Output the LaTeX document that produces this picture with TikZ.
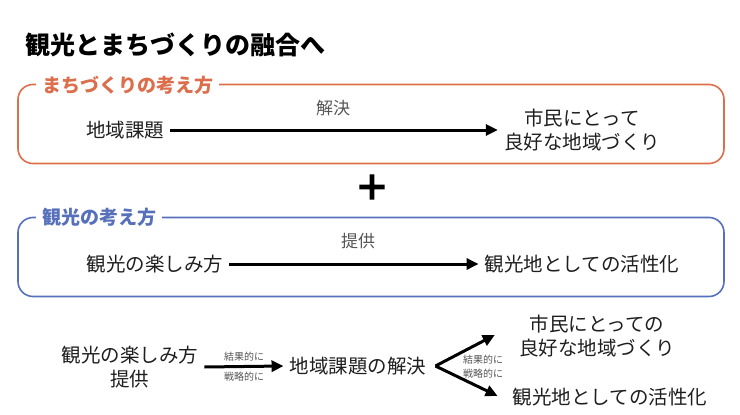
\documentclass[tikz,border=0pt]{standalone}
\usepackage{fontspec}
\setmainfont{Noto Sans CJK JP}
\newfontfamily\plusfont[FakeBold=4]{DejaVu Sans}
\usetikzlibrary{arrows.meta}
\usepackage{xcolor}
\definecolor{MchD}{HTML}{DC6E4C}
\definecolor{KnkD}{HTML}{5670BC}
\definecolor{TxtD}{HTML}{1E1E1E}
\definecolor{SubD}{HTML}{555555}
\tikzset{
  RGN/.style={
    rectangle, rounded corners=15pt,
    draw=#1, line width=1.6pt,
    minimum width=706pt, minimum height=79pt
  },
  TTL/.style={
    anchor=west, fill=white, text=#1,
    font=\fontsize{19}{22}\selectfont\bfseries,
    inner xsep=6pt, inner ysep=1pt
  },
  TXT/.style={
    text=TxtD, align=center,
    font=\fontsize{19.5}{24}\selectfont,
    inner xsep=6pt, inner ysep=0pt
  },
  NOTE/.style={text=SubD, font=\fontsize{17}{20}\selectfont, inner sep=0pt},
  SML/.style={text=SubD, font=\fontsize{10}{14}\selectfont, inner sep=0pt, align=center},
  ARR/.style={
    -{Triangle[length=12pt,width=11pt]},
    line width=3pt, color=black
  },
}

\begin{document}
\begin{tikzpicture}[x=1pt,y=-1pt]
\useasboundingbox (0,0) rectangle (740,415);

%================ TITLE =================
\node[anchor=west,inner sep=0pt,font=\fontsize{25}{30}\selectfont\bfseries]
(ttl) at (25,45) {観光とまちづくりの融合へ};

%================ MACHIZUKURI =================
\node[RGN=MchD] (mrgn) at (371,124) {};
\node[TTL=MchD] (mlbl) at (36,85) {まちづくりの考え方};

\node[TXT] (kadai)  at (125,130) {地域課題};
\node[TXT] (shimin) at (582,130) {市民にとって\\良好な地域づくり};

\draw[ARR] (kadai.east)--(shimin.west);
\node[NOTE] (kaiketsu) at (333,108) {解決};

%================ PLUS =================
\node[font=\plusfont\fontsize{38}{38}\selectfont,inner sep=0pt] (plus) at (372,187) {+};

%================ KANKO =================
\node[RGN=KnkD] (krgn) at (371,257) {};
\node[TTL=KnkD] (klbl) at (36,217) {観光の考え方};

\node[TXT] (tano) at (155,264) {観光の楽しみ方};
\node[TXT] (kass) at (582,264) {観光地としての活性化};

\draw[ARR] (tano.east)--(kass.west);
\node[NOTE] (teikyo) at (358,241) {提供};

%================ FUSION =================
\node[TXT] (tano2)  at (130,367) {観光の楽しみ方\\提供};
\node[TXT] (kai2)   at (358,366) {地域課題の解決};
\node[TXT] (shim2)  at (597,336) {市民にとっての\\良好な地域づくり};
\node[TXT] (kass2)  at (610,397) {観光地としての活性化};

\draw[ARR] (tano2.east)--(kai2.west)
  node[SML,midway,above=4pt]{結果的に}
  node[SML,midway,below=4pt]{戦略的に};

\coordinate (fork) at ([xshift=3pt]kai2.east);
\coordinate (upT)  at ([xshift=-18pt,yshift=1pt]shim2.west);
\coordinate (dnT)  at ([xshift=-9pt,yshift=1pt]kass2.west);

\draw[ARR] (fork)--(upT);
\draw[ARR] (fork)--(dnT);

\node[SML] (fkl) at (483,367) {結果的に\\戦略的に};

\end{tikzpicture}
\end{document}
